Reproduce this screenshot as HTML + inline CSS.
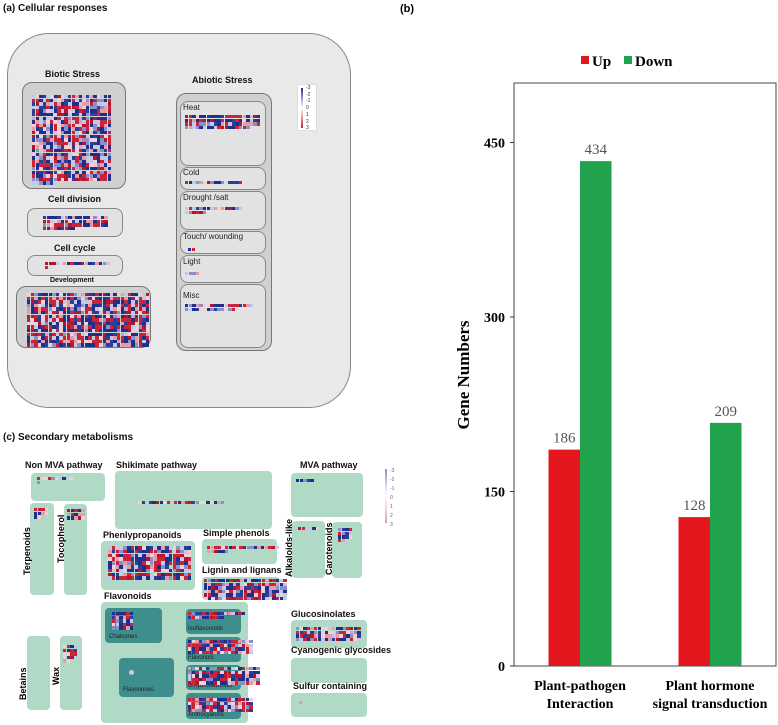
<!DOCTYPE html>
<html><head><meta charset="utf-8">
<style>
body{margin:0;background:#fff;width:778px;height:725px;overflow:hidden;position:relative;font-family:"Liberation Sans",Arial,sans-serif}
.a{position:absolute;box-sizing:border-box}
.lb{position:absolute;font-weight:bold;font-size:9px;color:#111;white-space:nowrap}
.sl{position:absolute;font-size:8px;color:#222;white-space:nowrap}
.g{background:#b0dac6;border-radius:4px}
.d{background:#3f8e8e;border-radius:4px}
.gr{background:#d0d0d0;border:1px solid #777;border-radius:10px}
.gr2{background:#e2e2e2;border:1px solid #888;border-radius:8px}
.vt{position:absolute;font-weight:bold;font-size:9px;transform:rotate(-90deg);transform-origin:left top;white-space:nowrap}
</style></head><body>
<div class="lb" style="left:3px;top:3px;font-size:10px">(a) Cellular responses</div>
<div class="a" style="left:7px;top:33px;width:344px;height:375px;background:#e9e9e9;border:1px solid #888;border-radius:42px"></div>
<div class="lb" style="left:45px;top:69px">Biotic Stress</div>
<div class="a gr" style="left:22px;top:82px;width:104px;height:107px"></div>
<div class="lb" style="left:48px;top:194px">Cell division</div>
<div class="a gr2" style="left:27px;top:208px;width:96px;height:29px"></div>
<div class="lb" style="left:54px;top:243px">Cell cycle</div>
<div class="a gr2" style="left:27px;top:255px;width:96px;height:21px"></div>
<div class="lb" style="left:50px;top:277px;font-size:7px">Development</div>
<div class="a gr" style="left:16px;top:286px;width:135px;height:62px"></div>
<div class="lb" style="left:192px;top:75px">Abiotic Stress</div>
<div class="a gr" style="left:176px;top:93px;width:96px;height:258px"></div>
<div class="a gr2" style="left:180px;top:101px;width:86px;height:65px"></div><div class="sl" style="left:183px;top:103px">Heat</div>
<div class="a gr2" style="left:180px;top:167px;width:86px;height:23px"></div><div class="sl" style="left:183px;top:168px">Cold</div>
<div class="a gr2" style="left:180px;top:191px;width:86px;height:39px"></div><div class="sl" style="left:183px;top:193px">Drought /salt</div>
<div class="a gr2" style="left:180px;top:231px;width:86px;height:23px"></div><div class="sl" style="left:183px;top:232px">Touch/ wounding</div>
<div class="a gr2" style="left:180px;top:255px;width:86px;height:28px"></div><div class="sl" style="left:183px;top:257px">Light</div>
<div class="a gr2" style="left:180px;top:284px;width:86px;height:64px"></div><div class="sl" style="left:183px;top:291px">Misc</div>
<div class="a" style="left:297px;top:84px;width:20px;height:47px;background:#fff;border:1px solid #ddd">
<div style="position:absolute;left:3px;top:3px;width:2px;height:40px;background:linear-gradient(#1f2f8c,#fff,#c81e32)"></div>
<div style="position:absolute;left:8px;top:0;font-size:5px;line-height:6.7px;color:#333">-3<br>-2<br>-1<br>0<br>1<br>2<br>3</div></div>

<div class="lb" style="left:3px;top:432px;font-size:10px">(c) Secondary metabolisms</div>
<div class="a g" style="left:31px;top:473px;width:74px;height:28px"></div><div class="lb" style="left:25px;top:460px">Non MVA pathway</div>
<div class="a g" style="left:115px;top:471px;width:157px;height:58px"></div><div class="lb" style="left:116px;top:460px">Shikimate pathway</div>
<div class="a g" style="left:291px;top:473px;width:72px;height:44px"></div><div class="lb" style="left:300px;top:460px">MVA pathway</div>
<div class="a g" style="left:30px;top:503px;width:24px;height:92px"></div><div class="vt" style="left:22px;top:575px">Terpenoids</div>
<div class="a g" style="left:64px;top:504px;width:23px;height:91px"></div><div class="vt" style="left:56px;top:563px">Tocopherol</div>
<div class="a g" style="left:101px;top:541px;width:94px;height:49px"></div><div class="lb" style="left:103px;top:530px">Phenlypropanoids</div>
<div class="a g" style="left:202px;top:539px;width:75px;height:25px"></div><div class="lb" style="left:203px;top:528px">Simple phenols</div>
<div class="a g" style="left:202px;top:577px;width:78px;height:23px"></div><div class="lb" style="left:202px;top:565px">Lignin and lignans</div>
<div class="a g" style="left:292px;top:521px;width:33px;height:57px"></div><div class="vt" style="left:284px;top:577px">Alkaloids-like</div>
<div class="a g" style="left:332px;top:522px;width:30px;height:56px"></div><div class="vt" style="left:324px;top:575px">Carotenoids</div>
<div class="a g" style="left:101px;top:602px;width:147px;height:121px"></div><div class="lb" style="left:104px;top:591px">Flavonoids</div>
<div class="a d" style="left:105px;top:608px;width:57px;height:35px"></div><div class="sl" style="left:109px;top:634px;font-size:6px">Chalcones</div>
<div class="a d" style="left:119px;top:658px;width:55px;height:39px"></div><div class="sl" style="left:123px;top:687px;font-size:6px">Flavonones</div>
<div class="a" style="left:129px;top:670px;width:5px;height:5px;border-radius:50%;background:#ccc"></div>
<div class="a d" style="left:186px;top:609px;width:55px;height:25px"></div><div class="sl" style="left:188px;top:626px;font-size:6px">Isoflavonoids</div>
<div class="a d" style="left:186px;top:637px;width:55px;height:25px"></div><div class="sl" style="left:188px;top:655px;font-size:6px">Flavonols</div>
<div class="a d" style="left:186px;top:665px;width:55px;height:25px"></div><div class="sl" style="left:188px;top:683px;font-size:6px">Dihydroflavonols</div>
<div class="a d" style="left:186px;top:693px;width:55px;height:26px"></div><div class="sl" style="left:188px;top:712px;font-size:6px">Anthocyanins</div>
<div class="a g" style="left:291px;top:620px;width:76px;height:28px"></div><div class="lb" style="left:291px;top:609px">Glucosinolates</div>
<div class="a g" style="left:291px;top:658px;width:76px;height:25px"></div><div class="lb" style="left:291px;top:645px">Cyanogenic glycosides</div>
<div class="a g" style="left:291px;top:693px;width:76px;height:24px"></div><div class="lb" style="left:293px;top:681px">Sulfur containing</div>
<div class="a g" style="left:27px;top:636px;width:23px;height:74px"></div><div class="vt" style="left:18px;top:700px">Betains</div>
<div class="a g" style="left:60px;top:636px;width:22px;height:74px"></div><div class="vt" style="left:51px;top:685px">Wax</div>
<div class="a" style="left:385px;top:467px;width:15px;height:58px">
<div style="position:absolute;left:0;top:2px;width:2px;height:54px;background:linear-gradient(#8891c9,#fff,#e89aa5)"></div>
<div style="position:absolute;left:5px;top:0;font-size:5px;line-height:9px;color:#666">-3<br>-2<br>-1<br>0<br>1<br>2<br>3</div></div>

<div id="cells"></div>

<svg width="778" height="725" style="position:absolute;left:0;top:0" id="chart"></svg>

<script>
// decorative heatmap tiles (pattern-generated)
var pal=['#1f2f8c','#1f2f8c','#2b3f99','#8891c9','#c3c8e6','#f2d0d5','#e89aa5','#c9243a','#b3162d','#c9243a'];
var s=7;
function rnd(){s=(s*9301+49297)%233280;return s/233280;}
var cellsRoot=document.getElementById('cells');
function grid(x,y,cols,rows,c,last){
  for(var r=0;r<rows;r++){var n=(r==rows-1&&last)?last:cols;
    for(var k=0;k<n;k++){var d=document.createElement('div');
      
      
      d.style.cssText='position:absolute;left:'+(x+k*c)+'px;top:'+(y+r*c)+'px;width:'+(c-0.2)+'px;height:'+(c-0.2)+'px;background:'+pal[Math.floor(rnd()*pal.length)];
      cellsRoot.appendChild(d);}}
}
grid(32,95,22,25,3.6,6);grid(43,216,18,4,3.6,9);grid(45,262,18,2,3.6,2);grid(27,293,34,15,3.6);
grid(185,115,21,4,3.6,18);grid(185,181,16,1,3.6);grid(185,207,16,2,3.6,6);grid(188,248,2,1,3.6);grid(185,272,4,1,3.6);grid(185,304,19,2,3.6,14);
grid(37,477,10,2,3.6,1);grid(138,501,24,1,3.6);grid(296,479,5,1,3.6);grid(34,508,4,3,3.6,2);grid(67,509,5,3,3.6);
grid(108,546,22,9,3.8);grid(207,546,20,2,3.6,6);grid(204,579,23,6,3.6);grid(298,527,6,1,3.6);grid(338,528,4,4,3.6,2);
grid(112,612,6,5,3.6);grid(188,612,16,2,3.6,10);grid(188,640,18,4,3.6);grid(188,667,20,5,3.6);grid(188,698,18,4,3.6);
grid(296,627,18,4,3.6);grid(63,645,4,5,3.6,2);grid(299,701,1,1,3.6);

// ---- bar chart ----
var categories=['Plant-pathogen|Interaction','Plant hormone|signal transduction'];
var upValues=[186,128];
var downValues=[434,209];
var ticks=[0,150,300,450];
var NS='http://www.w3.org/2000/svg', svg=document.getElementById('chart');
var X0=514,X1=776,Y0=666,Ytop=83;
function y(v){return Y0-v*(491-142)/300;}
function el(t,a){var e=document.createElementNS(NS,t);for(var k in a)e.setAttribute(k,a[k]);svg.appendChild(e);return e;}
var frame=el('rect',{x:X0,y:Ytop,width:X1-X0,height:Y0-Ytop,fill:'none',stroke:'#444','stroke-width':1});


var pt=el('text',{x:400,y:12,'font-size':11,'font-weight':'bold','font-family':'Liberation Sans'});pt.textContent='(b)';


ticks.forEach(function(t){
  var l=el('line',{x1:X0-4,x2:X0,y1:y(t),y2:y(t),stroke:'#333'});
  
  
  var tx=el('text',{x:X0-9,y:y(t)+5,'text-anchor':'end','font-size':14,'font-weight':'bold','font-family':'Liberation Serif'});tx.textContent=t;
  
  
});
var yt=el('text',{transform:'translate(469,375) rotate(-90)','text-anchor':'middle','font-size':17,'font-weight':'bold','font-family':'Liberation Serif'});yt.textContent='Gene Numbers';


var centers=[580,710],bw=31.5;
categories.forEach(function(c,i){
  var cx=centers[i];
  [[upValues[i],'#e3181e',cx-bw,'bar-up'],[downValues[i],'#21a34e',cx,'bar-down']].forEach(function(b){
    var r=el('rect',{x:b[2],y:y(b[0]),width:bw,height:Y0-y(b[0]),fill:b[1]});
    
    
    var v=el('text',{x:b[2]+bw/2,y:y(b[0])-7,'text-anchor':'middle','font-size':15,fill:'#555','font-family':'Liberation Serif'});v.textContent=b[0];
    
    
  });
  c.split('|').forEach(function(line,j){
    var t=el('text',{x:cx,y:690+j*18,'text-anchor':'middle','font-size':14,'font-weight':'bold','font-family':'Liberation Serif'});t.textContent=line;
    
    
  });
});
[['Up','#e3181e',581],['Down','#21a34e',624]].forEach(function(L){
  var r=el('rect',{x:L[2],y:56,width:8,height:8,fill:L[1]});
  
  
  var t=el('text',{x:L[2]+11,y:66,'font-size':15,'font-weight':'bold','font-family':'Liberation Serif'});t.textContent=L[0];
  
  
});
</script>
</body></html>
